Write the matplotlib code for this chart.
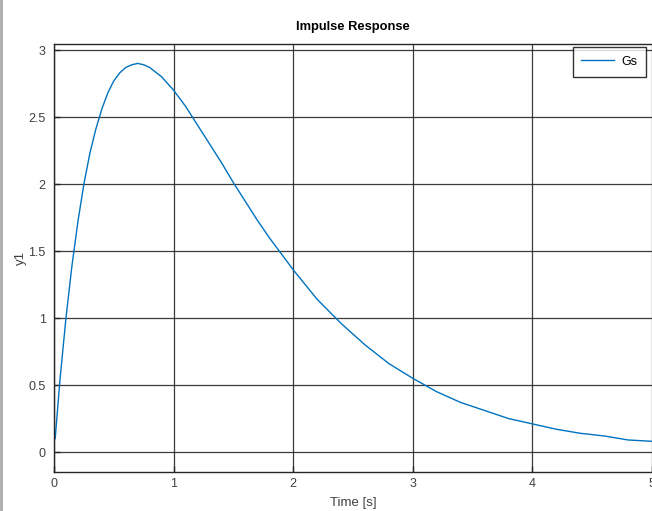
import matplotlib
matplotlib.use("Agg")
import matplotlib.pyplot as plt
from matplotlib.patches import Rectangle

# impulse response samples
t = [0.01, 0.05, 0.1, 0.15, 0.2, 0.25, 0.3, 0.35, 0.4, 0.45, 0.5, 0.55,
     0.6, 0.65, 0.7, 0.75, 0.8, 0.9, 1.0, 1.1, 1.2, 1.3, 1.4, 1.5, 1.6,
     1.7, 1.8, 1.9, 2.0, 2.2, 2.4, 2.6, 2.8, 3.0, 3.2, 3.4, 3.6, 3.8,
     4.0, 4.2, 4.4, 4.6, 4.8, 5.0]
y1 = [0.10, 0.54, 1.00, 1.39, 1.72, 2.00, 2.23, 2.41, 2.56, 2.68, 2.77,
      2.83, 2.87, 2.89, 2.90, 2.89, 2.87, 2.80, 2.70, 2.58, 2.44, 2.30,
      2.16, 2.01, 1.87, 1.73, 1.60, 1.48, 1.36, 1.14, 0.96, 0.80, 0.66,
      0.55, 0.45, 0.37, 0.31, 0.25, 0.21, 0.17, 0.14, 0.12, 0.09, 0.08]

xticks = [0, 1, 2, 3, 4, 5]
yticks = [0, 0.5, 1, 1.5, 2, 2.5, 3]
ytick_labels = ["0", "0.5", "1", "1.5", "2", "2.5", "3"]

plt.rcParams['font.family'] = ['Liberation Sans', 'DejaVu Sans']

W, H = 652, 511
fig = plt.figure(figsize=(W / 100, H / 100), dpi=100)
ax = fig.add_axes([54 / W, 1 - 472 / H, (W - 54) / W, (472 - 44) / H])

ax.plot(t, y1, color='#0072BD', lw=1.0, label='Gs')

ax.set_xlim(0, 5)
ax.set_ylim(-0.149, 3.045)
ax.set_xticks(xticks)
ax.set_yticks(yticks)
ax.set_yticklabels(ytick_labels)
ax.grid(True, color='#262626', lw=0.9, alpha=0.9)
ax.tick_params(direction='in', length=4, width=1, colors='#262626',
               labelsize=9, labelcolor='#404040')
ax.tick_params(axis='y', pad=6)
ax.tick_params(axis='x', pad=4)
for s in ax.spines.values():
    s.set_color('#262626')
    s.set_linewidth(1.0)
ax.spines['right'].set_visible(False)

ax.set_title('Impulse Response', fontsize=9.3, fontweight='bold', pad=10)
ax.set_xlabel('Time [s]', fontsize=9.5, color='#404040', labelpad=5)
ax.set_ylabel('y1', fontsize=9.5, color='#404040', labelpad=1)

leg = ax.legend(loc='upper right', bbox_to_anchor=(646 / W, 1 - 47 / H),
                bbox_transform=fig.transFigure, borderaxespad=0,
                fancybox=False, fontsize=9, handlelength=2.6,
                borderpad=0.7, handletextpad=0.6)
leg.get_frame().set_edgecolor('black')
leg.get_frame().set_linewidth(1.0)

# grey strip on the left edge of the screenshot
fig.add_artist(Rectangle((0, 0), 3 / W, 1, transform=fig.transFigure,
                         color='#b0b0b0', lw=0))

fig.savefig('out.png', dpi=100)
